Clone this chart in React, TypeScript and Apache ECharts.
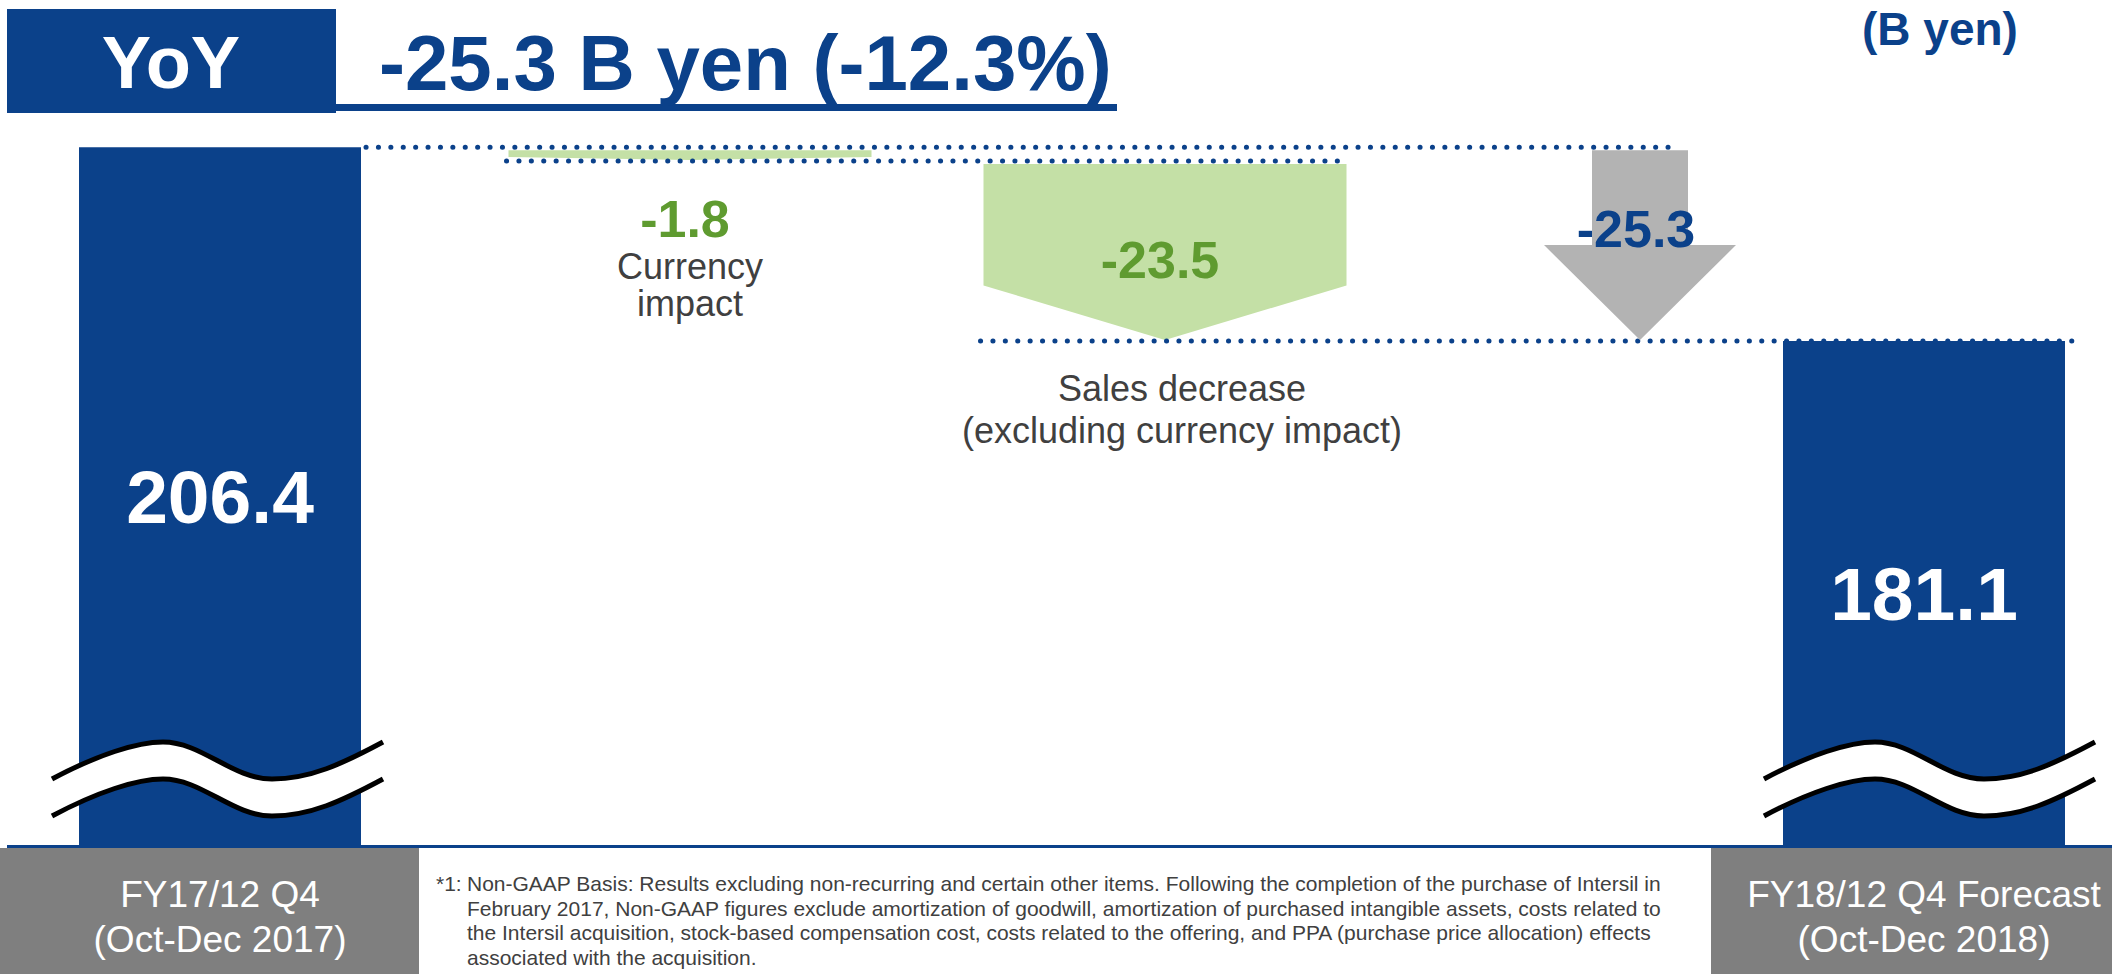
import React, { useEffect, useRef } from "react";
import * as echarts from "echarts";

// ---------- data ----------
const periods = ["FY17/12 Q4\n(Oct-Dec 2017)", "FY18/12 Q4 Forecast\n(Oct-Dec 2018)"];
const periodValues = [206.4, 181.1];
const stepNames = ["Currency impact", "Sales decrease", "Total"];
const stepDeltas = [-1.8, -23.5, -25.3];
const stepCaptions = [["Currency", "impact"], ["Sales decrease", "(excluding currency impact)"], []];
const yoyPercent = -12.3;
const unitLabel = "(B yen)";
const footnoteLines = [
  "Non-GAAP Basis: Results excluding non-recurring and certain other items. Following the completion of the purchase of Intersil in",
  "February 2017, Non-GAAP figures exclude amortization of goodwill, amortization of purchased intangible assets, costs related to",
  "the Intersil acquisition, stock-based compensation cost, costs related to the offering, and PPA (purchase price allocation) effects",
  "associated with the acquisition.",
];

// ---------- styles ----------
const FONT = '"Liberation Sans", Arial, Helvetica, sans-serif';
const BLUE = "#0B418A";
const GREEN_FILL = "#C4E0A6";
const GREEN_TEXT = "#5F9B30";
const ARROW_GRAY = "#B3B3B3";
const BOX_GRAY = "#7F7F7F";
const DARK = "#404040";

const W = 2112;
const H = 974;
const AXIS_Y = 846;
const GRID_A_LEFT = 220;
const GRID_A_RIGHT = 188;
const GRID_B_LEFT = 690;
const GRID_B_RIGHT = 472;
const BAR_W = 282;
const Y_MIN = 115.2;
const Y_MAX = 225.6;

// waterfall steps
const stepData = (() => {
  const out: number[][] = [];
  let run = periodValues[0];
  for (let i = 0; i < stepDeltas.length; i++) {
    if (i < stepDeltas.length - 1) {
      out.push([i, run, run + stepDeltas[i]]);
      run = run + stepDeltas[i];
    } else {
      out.push([i, periodValues[0], periodValues[0] + stepDeltas[i]]);
    }
  }
  return out;
})();

// wave (axis break) paths, local coordinates
const UPPER = "C45 13 85 0 111 0 C150 0 180 37 220 37 C258 37 290 22 331 0";
const WAVE_BAND =
  "M0 37 " + UPPER + " L331 37 C290 59 258 74 220 74 C180 74 150 37 111 37 C85 37 45 50 0 74 Z";
const WAVE_LINES =
  "M0 37 " + UPPER + " M0 74 C45 50 85 37 111 37 C150 37 180 74 220 74 C258 74 290 59 331 37";

let registered = false;
function registerShapes() {
  if (registered) return;
  registered = true;
  echarts.graphic.registerShape("waveBand", echarts.graphic.extendPath(WAVE_BAND, {}) as any);
  echarts.graphic.registerShape("waveLines", echarts.graphic.extendPath(WAVE_LINES, {}) as any);
}

function txt(text: string, x: number, y: number, font: string, fill: string, align = "center", vAlign = "middle") {
  return {
    type: "text",
    style: { text, x, y, font, fill, align, verticalAlign: vAlign, textAlign: align, textVerticalAlign: vAlign },
  };
}

function dotted(x1: number, x2: number, y: number) {
  return {
    type: "line",
    shape: { x1, y1: y, x2, y2: y },
    style: { stroke: BLUE, lineWidth: 5, lineDash: [0.1, 12.3], lineCap: "round" },
  };
}

export default function App() {
  const ref = useRef<HTMLDivElement>(null);

  useEffect(() => {
    if (!ref.current) return;
    registerShapes();
    const chart = echarts.init(ref.current, undefined, { renderer: "svg" });

    const leftBarEdge = GRID_A_LEFT + BAR_W / 2 + 5;
    const rightBarEdge = W - GRID_A_RIGHT + BAR_W / 2 + 7;

    const renderItem = (params: any, api: any) => {
      const i = api.value(0);
      const s = api.value(1);
      const e = api.value(2);
      const p0 = api.coord([i, s]);
      const cx = p0[0];
      const ys = p0[1];
      const ye = api.coord([i, e])[1];
      const top = ys + 3;
      const tip = ye - 1;
      const children: any[] = [];
      const delta = (e - s).toFixed(1);
      if (i < 2) {
        const hw = 181.5;
        const side = top + 0.69 * (tip - top);
        children.push({
          type: "polygon",
          shape: { points: [[cx - hw, top], [cx + hw, top], [cx + hw, side], [cx, tip], [cx - hw, side]] },
          style: { fill: GREEN_FILL },
        });
        if (i === 0) {
          const nx = api.coord([i + 1, e])[0];
          children.push(dotted(cx - hw - 2, nx + hw + 2, ye));
          children.push(txt(delta, cx - 5, ys + 72, `bold 52px ${FONT}`, GREEN_TEXT));
          children.push(txt(stepCaptions[i][0], cx, ys + 119, `36px ${FONT}`, DARK));
          children.push(txt(stepCaptions[i][1], cx, ys + 156, `36px ${FONT}`, DARK));
        } else {
          children.push(dotted(cx - hw - 3, rightBarEdge, ye));
          children.push(txt(delta, cx - 5, ys + 0.55 * (ye - ys), `bold 52px ${FONT}`, GREEN_TEXT));
          children.push(txt(stepCaptions[i][0], cx + 17, ye + 47.5, `36px ${FONT}`, DARK));
          children.push(txt(stepCaptions[i][1], cx + 17, ye + 89.5, `36px ${FONT}`, DARK));
        }
      } else {
        const sw = 48;
        const hw = 96;
        const head = top + 0.5 * (tip - top);
        children.push({
          type: "polygon",
          shape: {
            points: [[cx - sw, top], [cx + sw, top], [cx + sw, head], [cx + hw, head], [cx, tip], [cx - hw, head], [cx - sw, head]],
          },
          style: { fill: ARROW_GRAY },
        });
        children.push(dotted(leftBarEdge, cx + sw - 12, ys));
        children.push(txt(delta, cx - 4, ys + 0.42 * (ye - ys), `bold 52px ${FONT}`, BLUE));
      }
      return { type: "group", children };
    };

    const option: any = {
      animation: false,
      grid: [
        { left: GRID_A_LEFT, right: GRID_A_RIGHT, top: 0, bottom: H - AXIS_Y },
        { left: GRID_B_LEFT, right: GRID_B_RIGHT, top: 0, bottom: H - AXIS_Y },
      ],
      xAxis: [
        {
          type: "category",
          gridIndex: 0,
          data: periods,
          boundaryGap: false,
          axisLine: { show: false },
          axisTick: { show: false },
          splitLine: { show: false },
          axisLabel: {
            interval: 0,
            margin: 26,
            color: "#FFFFFF",
            fontSize: 37,
            lineHeight: 45,
            fontFamily: FONT,
          },
          z: 20,
        },
        {
          type: "category",
          gridIndex: 1,
          data: stepNames,
          boundaryGap: false,
          show: false,
        },
      ],
      yAxis: [
        { type: "value", gridIndex: 0, min: Y_MIN, max: Y_MAX, show: false, splitLine: { show: false } },
        { type: "value", gridIndex: 1, min: Y_MIN, max: Y_MAX, show: false, splitLine: { show: false } },
      ],
      series: [
        {
          type: "bar",
          xAxisIndex: 0,
          yAxisIndex: 0,
          data: periodValues,
          barWidth: BAR_W,
          itemStyle: { color: BLUE },
          label: {
            show: true,
            position: "inside",
            color: "#FFFFFF",
            fontSize: 75,
            fontWeight: "bold",
            fontFamily: FONT,
            formatter: (p: any) => Number(p.value).toFixed(1),
          },
          z: 2,
        },
        {
          type: "custom",
          xAxisIndex: 1,
          yAxisIndex: 1,
          data: stepData,
          renderItem,
          clip: false,
          z: 3,
        },
      ],
      graphic: [
        // header
        { type: "rect", shape: { x: 7, y: 9, width: 329, height: 104 }, style: { fill: BLUE }, z: 1 },
        { ...txt("YoY", 171, 62, `bold 74px ${FONT}`, "#FFFFFF"), z: 2 },
        {
          ...txt(`${stepDeltas[2].toFixed(1)} B yen (${yoyPercent.toFixed(1)}%)`, 379, 63, `bold 78px ${FONT}`, BLUE, "left"),
          z: 2,
        },
        { type: "rect", shape: { x: 336, y: 104, width: 781, height: 7 }, style: { fill: BLUE }, z: 1 },
        { ...txt(unitLabel, 1862, 29, `bold 46px ${FONT}`, BLUE, "left"), z: 2 },
        // bottom band
        { type: "rect", shape: { x: 0, y: 848, width: 419, height: 126 }, style: { fill: BOX_GRAY }, z: -10 },
        { type: "rect", shape: { x: 1711, y: 848, width: 401, height: 126 }, style: { fill: BOX_GRAY }, z: -10 },
        { type: "rect", shape: { x: 7, y: 845, width: W - 7, height: 3 }, style: { fill: BLUE }, z: 5 },
        // axis break waves
        { type: "waveBand", x: 52, y: 742, style: { fill: "#FFFFFF" }, z: 10 },
        { type: "waveLines", x: 52, y: 742, style: { fill: "none", stroke: "#000000", lineWidth: 5 }, z: 11 },
        { type: "waveBand", x: 1764, y: 742, style: { fill: "#FFFFFF" }, z: 10 },
        { type: "waveLines", x: 1764, y: 742, style: { fill: "none", stroke: "#000000", lineWidth: 5 }, z: 11 },
        // footnote
        {
          type: "text",
          z: 2,
          style: { text: "*1:", x: 436, y: 871, font: `21px ${FONT}`, fill: DARK, lineHeight: 24.7, align: "left", verticalAlign: "top", textAlign: "left", textVerticalAlign: "top" },
        },
        {
          type: "text",
          z: 2,
          style: {
            text: footnoteLines.join("\n"),
            x: 467,
            y: 871,
            font: `21px ${FONT}`,
            fill: DARK,
            lineHeight: 24.7,
            align: "left",
            verticalAlign: "top",
            textAlign: "left",
            textVerticalAlign: "top",
          },
        },
      ],
    };

    chart.setOption(option);
    return () => {
      chart.dispose();
    };
  }, []);

  return (
    <div
      ref={ref}
      style={{ position: "fixed", left: 0, top: 0, width: W, height: H, background: "#FFFFFF" }}
    />
  );
}
